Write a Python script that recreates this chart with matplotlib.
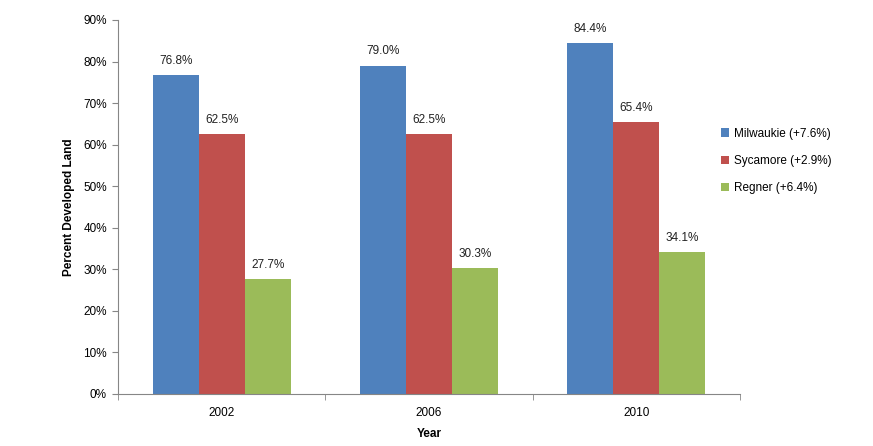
import matplotlib.pyplot as plt
import numpy as np

plt.rcParams['font.family'] = ['Liberation Sans', 'DejaVu Sans']

# data
years = ['2002', '2006', '2010']
series_names = ['Milwaukie (+7.6%)', 'Sycamore (+2.9%)', 'Regner (+6.4%)']
milwaukie = [76.8, 79.0, 84.4]
sycamore = [62.5, 62.5, 65.4]
regner = [27.7, 30.3, 34.1]
colors = ['#4F81BD', '#C0504D', '#9BBB59']

fig = plt.figure(figsize=(8.73, 4.46), dpi=100)
ax = fig.add_axes([118 / 873, 1 - 394 / 446, (740 - 118) / 873, (394 - 20) / 446])

x = np.arange(len(years))
w = 1 / 4.5
handles = []
for i, (vals, col) in enumerate(zip([milwaukie, sycamore, regner], colors)):
    pos = x + (i - 1) * w
    b = ax.bar(pos, vals, width=w, color=col, label=series_names[i])
    handles.append(b)
    for px, v in zip(pos, vals):
        ax.text(px, v + 2.0, f'{v:.1f}%', ha='center', va='bottom', fontsize=8.5, color='#222222')

ax.set_xlim(-0.5, len(years) - 0.5)
ax.set_ylim(0, 90)
ax.set_yticks(np.arange(0, 91, 10))
ax.set_yticklabels([f'{t}%' for t in range(0, 91, 10)], fontsize=8.5)
ax.set_xticks(x)
ax.set_xticklabels(years, fontsize=8.5)
ax.set_xticks(np.arange(-0.5, len(years), 1), minor=True)
ax.tick_params(axis='x', which='major', length=0, pad=9)
ax.tick_params(axis='x', which='minor', length=4, color='#868686', direction='out')
ax.tick_params(axis='y', length=4, color='#868686', direction='out', pad=4)

for s in ['top', 'right']:
    ax.spines[s].set_visible(False)
for s in ['left', 'bottom']:
    ax.spines[s].set_color('#868686')
    ax.spines[s].set_linewidth(0.8)

ax.set_xlabel('Year', fontsize=8.5, fontweight='bold', labelpad=7)
ax.set_ylabel('Percent Developed Land', fontsize=8.5, fontweight='bold', labelpad=6)

fig.legend(handles=handles, loc='upper left', bbox_to_anchor=(710 / 873, 1 - 117 / 446),
           frameon=False, fontsize=8.5, handlelength=0.7, handleheight=0.7,
           handletextpad=0.4, labelspacing=1.3)

fig.savefig('out.png', dpi=100)
